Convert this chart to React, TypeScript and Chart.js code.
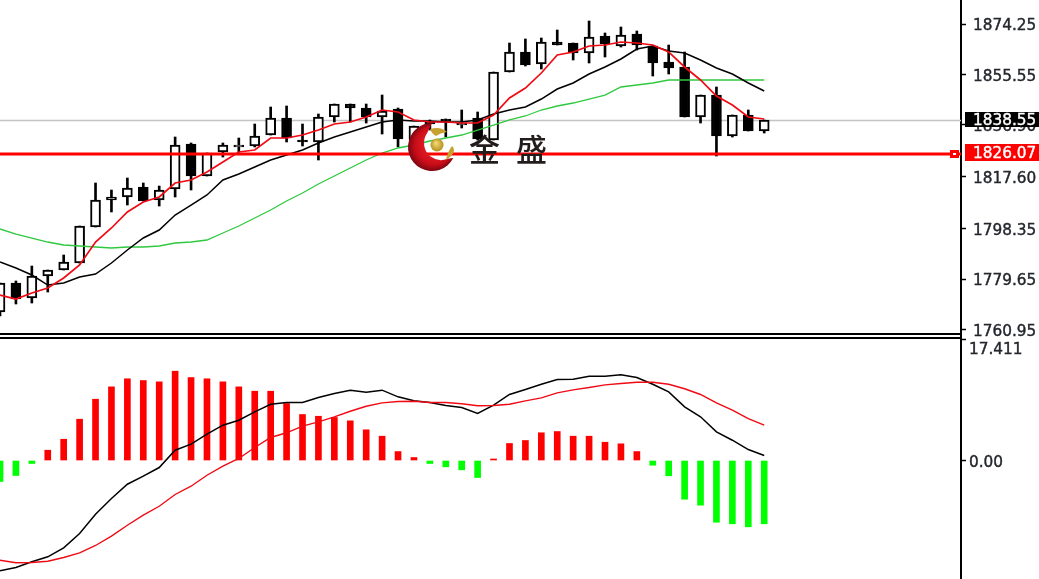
import React, { useEffect, useRef } from "react";
import { Chart, registerables } from "chart.js";

Chart.register(...registerables);

const barIndex = [0,1,2,3,4,5,6,7,8,9,10,11,12,13,14,15,16,17,18,19,20,21,22,23,24,25,26,27,28,29,30,31,32,33,34,35,36,37,38,39,40,41,42,43,44,45,46,47,48];

const opens = [1767.58,1778.33,1772.77,1780.92,1783.14,1785.73,1799.07,1809.07,1810.18,1813.88,1809.07,1813.14,1829.81,1817.95,1826.84,1828.70,1829.07,1833.14,1839.44,1831.29,1830.55,1839.81,1844.62,1843.14,1839.81,1842.77,1831.29,1837.95,1839.07,1836.84,1839.44,1831.29,1856.47,1863.88,1859.44,1867.58,1867.21,1863.51,1869.81,1866.10,1870.55,1866.10,1860.18,1858.33,1839.81,1847.95,1832.77,1840.55,1834.62];
const highs = [1778.33,1779.07,1784.62,1783.14,1788.70,1799.44,1815.36,1812.77,1817.21,1815.36,1814.25,1832.40,1830.18,1826.47,1830.18,1832.03,1837.21,1843.51,1843.88,1837.21,1840.92,1844.62,1844.62,1844.62,1847.95,1843.14,1836.47,1838.70,1839.07,1842.40,1841.66,1856.47,1867.21,1868.70,1869.07,1872.03,1867.21,1875.36,1870.92,1873.14,1871.66,1866.10,1866.47,1863.88,1847.95,1850.92,1840.55,1842.40,1838.70];
const lows = [1766.10,1770.55,1770.92,1774.99,1783.14,1785.73,1799.07,1804.62,1807.21,1808.70,1806.84,1810.18,1812.77,1817.95,1824.99,1826.84,1828.70,1833.14,1830.55,1829.07,1823.88,1837.95,1837.95,1837.58,1833.51,1828.70,1828.33,1834.99,1832.40,1835.73,1831.29,1831.29,1856.47,1858.70,1857.58,1866.47,1860.92,1859.81,1862.03,1865.73,1864.62,1854.99,1855.73,1839.81,1837.58,1825.36,1832.40,1834.62,1833.88];
const closes = [1778.33,1772.40,1780.92,1783.14,1786.10,1799.44,1809.07,1810.18,1813.51,1808.70,1812.77,1829.44,1817.95,1826.47,1829.44,1829.44,1832.77,1839.44,1832.03,1830.55,1839.81,1844.62,1843.14,1839.81,1842.03,1831.66,1836.47,1837.21,1838.33,1837.58,1831.66,1856.47,1863.88,1859.07,1867.58,1866.47,1863.51,1869.44,1866.84,1870.18,1866.47,1859.81,1857.95,1839.81,1847.95,1832.77,1840.55,1834.62,1838.70];

const maFast = [1773.88,1772.40,1774.62,1776.47,1780.18,1784.99,1793.51,1798.70,1804.62,1808.33,1810.18,1815.36,1816.47,1819.44,1823.14,1826.84,1827.58,1832.03,1832.03,1833.14,1834.99,1837.21,1837.95,1839.81,1842.40,1841.66,1838.70,1837.95,1837.95,1837.58,1837.58,1840.55,1846.84,1850.55,1856.10,1862.77,1863.88,1866.10,1866.47,1867.58,1867.21,1866.47,1863.88,1858.33,1853.51,1847.58,1844.25,1839.81,1839.07];
const maMid = [1786.10,1783.88,1781.29,1777.58,1778.33,1780.55,1781.66,1785.73,1790.55,1794.99,1797.95,1803.51,1807.21,1810.92,1816.47,1818.70,1821.29,1823.88,1825.73,1827.58,1830.18,1832.40,1834.25,1836.10,1837.95,1838.70,1838.33,1838.33,1837.95,1837.95,1838.70,1840.92,1842.40,1843.51,1846.47,1850.18,1852.40,1855.73,1858.33,1861.29,1864.99,1866.10,1864.25,1863.51,1860.92,1857.95,1855.73,1852.40,1849.44];
const maSlow = [1798.33,1796.47,1794.99,1793.51,1792.40,1792.03,1791.66,1791.29,1791.66,1791.66,1792.03,1793.14,1793.51,1794.25,1796.84,1799.44,1802.40,1805.36,1808.70,1811.66,1814.99,1817.95,1820.92,1823.88,1826.47,1828.33,1829.44,1830.92,1832.03,1833.14,1834.99,1836.84,1838.70,1840.18,1842.40,1843.88,1844.99,1846.47,1847.95,1850.92,1851.66,1852.40,1853.51,1853.51,1853.51,1853.51,1853.51,1853.51,1853.51];

const histogram = [-3.02,-2.16,-0.43,1.48,3.06,5.94,8.82,10.60,11.76,11.51,11.32,12.85,11.94,11.76,11.32,10.60,9.97,9.97,8.20,6.62,6.37,6.19,5.71,4.42,3.50,1.29,0.43,-0.43,-0.91,-1.34,-2.45,0.22,2.45,2.88,3.99,4.17,3.50,3.50,2.63,2.40,1.29,-0.68,-2.20,-5.57,-6.43,-8.88,-9.11,-9.54,-9.11];
const macdLine = [-15.87,-15.40,-14.57,-13.86,-12.57,-10.50,-7.72,-5.47,-3.41,-2.25,-1.01,1.48,2.35,3.79,5.08,5.80,7.00,8.10,8.35,8.35,9.06,9.64,10.12,9.83,10.12,9.16,8.59,8.35,7.91,7.63,6.76,7.96,9.50,10.22,10.98,11.65,11.70,12.13,12.13,12.33,11.94,10.98,9.88,7.73,6.29,4.13,2.92,1.58,0.72];
const signalLine = [-14.34,-14.72,-14.68,-14.49,-13.96,-13.28,-12.23,-10.89,-9.31,-7.87,-6.58,-4.89,-3.70,-2.12,-0.82,0.29,1.87,3.31,3.99,4.94,5.57,6.29,7.09,7.81,8.30,8.49,8.53,8.35,8.35,8.16,7.87,7.91,8.10,8.59,9.02,9.74,10.17,10.50,10.89,11.08,11.27,11.27,10.98,10.32,9.50,8.30,7.24,6.04,5.08];

const priceTicks = [1874.25, 1855.55, 1836.9, 1817.6, 1798.35, 1779.65, 1760.95];
const macdTicks = [17.411, 0];
const bidPrice = 1838.55;
const levelPrice = 1826.07;

const X_MAX = 60.36;
const TEXT = "#23262b";
// A two-line label sits half a line height below its tick, which lowers the digits onto the tick.
const NUDGE_LINE = 0.27;
const priceFont = { family: "'DejaVu Sans'", size: 15.3, lineHeight: NUDGE_LINE };

const overlayPlugin = {
  id: "overlay",
  afterDraw(chart: any) {
    const { ctx, scales } = chart;
    const price = scales.price;
    const right = chart.chartArea.right;
    ctx.save();
    // pane separators
    ctx.fillStyle = "#000";
    ctx.fillRect(0, 333, right + 1, 2);
    ctx.fillRect(0, 337, right + 1, 2);
    // level marker on the red line
    const ly = price.getPixelForValue(levelPrice);
    ctx.fillStyle = "#ff0000";
    ctx.fillRect(950, Math.round(ly) - 4, 9, 8);
    ctx.fillStyle = "#fff";
    ctx.fillRect(953, Math.round(ly) - 1, 3, 2);
    // price boxes
    const box = (y0: number, h: number, fill: string, label: string) => {
      ctx.fillStyle = fill;
      ctx.fillRect(965, y0, 74, h);
      ctx.fillStyle = "#fff";
      ctx.strokeStyle = "#fff";
      ctx.lineWidth = 0.4;
      ctx.font = "15.3px 'DejaVu Sans'";
      ctx.textBaseline = "middle";
      ctx.textAlign = "left";
      ctx.fillText(label, 973, y0 + h / 2 + 1.5);
      ctx.strokeText(label, 973, y0 + h / 2 + 1.5);
    };
    box(112, 15, "#000", bidPrice.toFixed(2));
    box(144, 17, "#ff0000", levelPrice.toFixed(2));

    // brand logo
    const cx = 432, cy = 147;
    const g = ctx.createRadialGradient(cx + 6, cy - 4, 10, cx, cy, 24);
    g.addColorStop(0, "#e8202a");
    g.addColorStop(0.65, "#c80d18");
    g.addColorStop(1, "#7c0610");
    ctx.fillStyle = g;
    ctx.beginPath();
    ctx.moveTo(453, 158);
    ctx.arc(cx, cy, 24, 0.48, Math.PI * 1.5, false);
    ctx.arc(441, 143, 17, Math.PI * 1.2, 0.98 * Math.PI / 2.6, true);
    ctx.closePath();
    ctx.fill();
    const gold = ctx.createRadialGradient(436, 143, 1, 437, 145, 7);
    gold.addColorStop(0, "#f0d470");
    gold.addColorStop(1, "#b08a18");
    ctx.fillStyle = gold;
    ctx.beginPath();
    ctx.arc(437, 145, 6.5, 0, Math.PI * 2);
    ctx.fill();
    ctx.fillStyle = "#c8a030";
    ctx.beginPath();
    ctx.moveTo(430, 129);
    ctx.quadraticCurveTo(441, 126, 447, 132);
    ctx.quadraticCurveTo(440, 133, 436, 136);
    ctx.quadraticCurveTo(432, 134, 430, 129);
    ctx.fill();
    ctx.beginPath();
    ctx.moveTo(452, 146);
    ctx.quadraticCurveTo(458, 152, 446, 160);
    ctx.quadraticCurveTo(447, 153, 452, 146);
    ctx.closePath();
    ctx.fill();

    // brand text
    ctx.fillStyle = "#231c1c";
    ctx.font = "500 31px 'Noto Sans CJK SC'";
    ctx.textAlign = "left";
    ctx.textBaseline = "middle";
    ctx.fillText("金", 469, 149);
    ctx.fillText("盛", 516, 149);
    ctx.restore();
  },
};

const xy = (vals: number[]) => barIndex.map((x, i) => ({ x, y: vals[i] }));
const hline = (v: number) => [{ x: 0, y: v }, { x: X_MAX, y: v }];
const isUp = (i: number) => closes[i] >= opens[i];
const fitAxis = (s: any) => {
  s.width = 78;
  s.paddingTop = 0;
  s.paddingBottom = 0;
};

export default function App() {
  const ref = useRef<HTMLCanvasElement | null>(null);
  useEffect(() => {
    document.body.style.margin = "0";
    const lineDs = (label: string, data: any, color: string, width: number, yAxisID: string, order: number) => ({
      type: "line", label, data, borderColor: color, borderWidth: width, pointRadius: 0, tension: 0, yAxisID, order,
    });
    const chart = new Chart(ref.current as any, {
      type: "bar",
      data: {
        datasets: [
          lineDs("Bid", hline(bidPrice), "#c4c4c4", 1.5, "price", 9),
          lineDs("Level", hline(levelPrice), "#ff0000", 3, "price", 3),
          {
            label: "Wicks", yAxisID: "price", order: 8, grouped: false, barThickness: 2,
            data: barIndex.map((x, i) => ({ x, y: [lows[i], highs[i]] })),
            backgroundColor: "#000",
          },
          {
            label: "Bodies", yAxisID: "price", order: 7, grouped: false, barThickness: 10,
            data: barIndex.map((x, i) => ({ x, y: [opens[i], closes[i]] })),
            backgroundColor: barIndex.map((i) => (isUp(i) ? "#fff" : "#000")),
            borderColor: "#000", borderWidth: 2, borderSkipped: false,
          },
          lineDs("MA slow", xy(maSlow), "#2fc83f", 1.3, "price", 6),
          lineDs("MA mid", xy(maMid), "#000", 1.5, "price", 5),
          lineDs("MA fast", xy(maFast), "#f00a14", 1.7, "price", 2),
          {
            label: "Histogram", yAxisID: "macd", order: 4, grouped: false, barThickness: 6,
            data: xy(histogram),
            backgroundColor: histogram.map((v) => (v >= 0 ? "#ff0000" : "#00ff00")),
          },
          lineDs("MACD", xy(macdLine), "#000", 1.5, "macd", 1),
          lineDs("Signal", xy(signalLine), "#f00a14", 1.4, "macd", 0),
        ] as any,
      },
      options: {
        responsive: false,
        animation: false,
        layout: { padding: 0, autoPadding: false },
        plugins: { legend: { display: false }, tooltip: { enabled: false } },
        scales: {
          x: { type: "linear", min: 0, max: X_MAX, offset: false, display: false },
          price: {
            axis: "y", type: "linear", position: "right", stack: "panes", stackWeight: 335, weight: 1,
            min: 1759.07, max: 1883.14,
            border: { display: true, color: "#000", width: 2 },
            grid: { drawOnChartArea: false, color: "#000", tickLength: 5, tickWidth: 1.5 },
            ticks: { autoSkip: false, font: priceFont, color: TEXT, padding: 7, maxRotation: 0,
              textStrokeColor: TEXT, textStrokeWidth: 0.4,
              callback: (v: any) => ["", Number(v).toFixed(2)] },
            afterBuildTicks: (s: any) => { s.ticks = priceTicks.map((value) => ({ value })); },
            afterFit: fitAxis,
          },
          macd: {
            axis: "y", type: "linear", position: "right", stack: "panes", stackWeight: 244, weight: 2,
            min: -17.05, max: 18.06,
            border: { display: true, color: "#000", width: 2 },
            grid: { drawOnChartArea: false, color: "#000", tickLength: 5, tickWidth: 1.5 },
            ticks: { autoSkip: false, color: TEXT, padding: 3, maxRotation: 0,
              textStrokeColor: TEXT, textStrokeWidth: 0.4,
              font: (c: any) => ({ ...priceFont, lineHeight: c.tick && c.tick.value === 0 ? NUDGE_LINE : 1.4 }),
              callback: (v: any) => ["", Number(v) === 0 ? "0.00" : Number(v).toFixed(3)] },
            afterBuildTicks: (s: any) => { s.ticks = macdTicks.map((value) => ({ value })); },
            afterFit: fitAxis,
          },
        },
      } as any,
      plugins: [overlayPlugin as any],
    });
    return () => chart.destroy();
  }, []);
  return (
    <canvas ref={ref} width={1039} height={579} style={{ display: "block", background: "#fff", filter: "blur(0.4px)" }} />
  );
}
